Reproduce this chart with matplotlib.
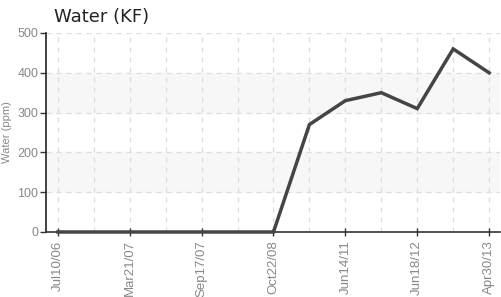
import numpy as np
import matplotlib.pyplot as plt

# readings, every second date labelled on the axis
water = [0, 0, 0, 0, 0, 0, 0, 270, 330, 350, 310, 460, 400]
tick_labels = ["Jul10/06", "Mar21/07", "Sep17/07", "Oct22/08",
               "Jun14/11", "Jun18/12", "Apr30/13"]
yticks = [0, 100, 200, 300, 400, 500]

plt.rcParams['font.family'] = ['Liberation Sans', 'DejaVu Sans']

fig = plt.figure(figsize=(5.01, 2.97), dpi=100)
ax = fig.add_axes([0.0918, 0.2189, 0.906, 0.67])

x = np.arange(len(water))
ax.set_xlim(-0.33, 12.3)
ax.set_ylim(0, 500)

# alternating bands
for lo, hi in [(100, 200), (300, 400)]:
    ax.axhspan(lo, hi, color='#f7f7f7', zorder=0)

for xi in x:
    ax.axvline(xi, color='#dddddd', lw=0.9, ls=(0, (4, 4)), zorder=1)
for yv in yticks[1:]:
    ax.axhline(yv, color='#dddddd', lw=0.9, ls=(0, (4, 4)), zorder=1)

ax.plot(x, water, color='#454545', lw=2.5, solid_joinstyle='miter', zorder=3, clip_on=False)

ax.set_xticks(x[::2])
ax.set_xticklabels(tick_labels, rotation=90, fontsize=9.5, color='#888888')
ax.set_yticks(yticks)
ax.set_yticklabels([str(v) for v in yticks], fontsize=9, color='#888888')
ax.tick_params(axis='y', length=4, width=1, color='#333333', pad=1.5)
ax.tick_params(axis='x', length=6, width=1, color='#333333', direction='inout', pad=3)

for s in ['top', 'right']:
    ax.spines[s].set_visible(False)
ax.spines['left'].set_color('#222222')
ax.spines['bottom'].set_color('#333333')
ax.spines['left'].set_linewidth(1.2)
ax.spines['bottom'].set_linewidth(1.2)

ax.set_ylabel("Water (ppm)", fontsize=8, color='#888888', labelpad=4)
fig.text(0.108, 0.925, "Water (KF)", fontsize=13, color='#222222', family='DejaVu Sans')

fig.savefig("out.png", dpi=100)
